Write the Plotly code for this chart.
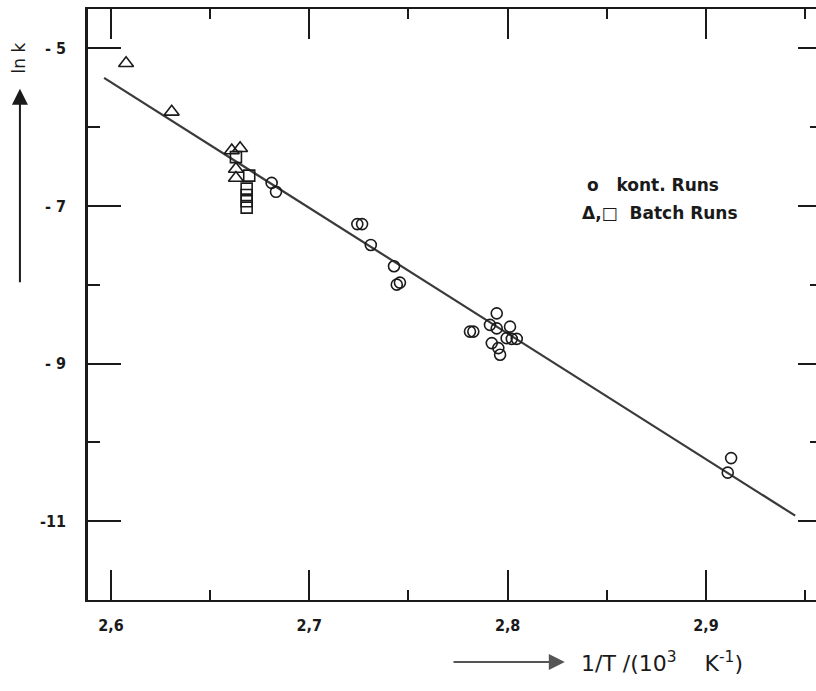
import plotly.graph_objects as go

# Arrhenius plot: ln k versus 1/T (10^3 K^-1)

# continuous runs (open circles)
kont_x = [2.6810, 2.6832, 2.7242, 2.7266, 2.7310, 2.7427, 2.7441, 2.7457,
          2.7810, 2.7827, 2.7945, 2.7911, 2.7945, 2.7920, 2.7953, 2.7962,
          2.8012, 2.7995, 2.8021, 2.8046, 2.9127, 2.9110]
kont_y = [-6.707, -6.820, -7.230, -7.230, -7.494, -7.764, -7.998, -7.972,
          -8.594, -8.594, -8.362, -8.509, -8.553, -8.740, -8.803, -8.887,
          -8.531, -8.677, -8.686, -8.686, -10.199, -10.384]

# batch runs (open triangles)
batch_tri_x = [2.6076, 2.6306, 2.6609, 2.6651, 2.6630, 2.6630]
batch_tri_y = [-5.189, -5.805, -6.296, -6.267, -6.531, -6.644]

# batch runs (open squares)
batch_sq_x = [2.6630, 2.6697, 2.6684, 2.6684, 2.6684, 2.6684]
batch_sq_y = [-6.380, -6.614, -6.780, -6.860, -6.940, -7.020]

# regression line end points
fit_x = [2.5965, 2.9450]
fit_y = [-5.374, -10.930]

# axis ticks
x_ticks = [2.6, 2.7, 2.8, 2.9]
y_ticks = [-5, -7, -9, -11]
y_ticktext = ["- 5", "- 7", "- 9", "-11"]

FONT = "DejaVu Sans Condensed, DejaVu Sans, sans-serif"
WIDE = "DejaVu Sans, sans-serif"
INK = "#1a1a1a"

fig = go.Figure()

fig.add_trace(go.Scatter(
    x=fit_x, y=fit_y, mode="lines",
    line=dict(color="#3a3a3a", width=2.2), showlegend=False, hoverinfo="skip"))

fig.add_trace(go.Scatter(
    x=kont_x, y=kont_y, mode="markers", name="kont. Runs",
    marker=dict(symbol="circle-open", size=11, color=INK, line=dict(width=1.6))))

fig.add_trace(go.Scatter(
    x=batch_tri_x, y=batch_tri_y, mode="markers", name="Batch Runs",
    marker=dict(symbol="triangle-up-open", size=13, color=INK, line=dict(width=1.6))))

fig.add_trace(go.Scatter(
    x=batch_sq_x, y=batch_sq_y, mode="markers", name="Batch Runs",
    marker=dict(symbol="square-open", size=11, color=INK, line=dict(width=1.6))))

# right-hand tick marks without an axis line
fig.add_trace(go.Scatter(x=[None], y=[None], yaxis="y2", showlegend=False))

fig.update_layout(
    width=816, height=691,
    margin=dict(l=88, r=0, t=9, b=91),
    paper_bgcolor="white", plot_bgcolor="white",
    separators=",.",
    showlegend=False,
    font=dict(family=FONT, color=INK, size=16),
    xaxis=dict(
        range=[2.5884, 2.9555],
        tickvals=x_ticks, tickformat=".1f",
        ticks="inside", ticklen=30, tickwidth=2, tickcolor=INK,
        minor=dict(dtick=0.05, tick0=2.6, ticks="inside", ticklen=10,
                   tickwidth=2, tickcolor=INK),
        showline=True, linecolor=INK, linewidth=2, mirror="ticks",
        showgrid=False, zeroline=False,
        ticklabelstandoff=10,
        tickfont=dict(family=FONT, size=16, color=INK, weight="bold"),
    ),
    yaxis=dict(
        range=[-12.0, -4.5],
        tickvals=y_ticks, ticktext=y_ticktext,
        ticks="inside", ticklen=33, tickwidth=2, tickcolor=INK,
        minor=dict(dtick=1, tick0=-5, ticks="inside", ticklen=12,
                   tickwidth=2, tickcolor=INK),
        showline=True, linecolor=INK, linewidth=2.5,
        showgrid=False, zeroline=False,
        ticklabelstandoff=16,
        tickfont=dict(family=FONT, size=16, color=INK, weight="bold"),
    ),
    yaxis2=dict(
        overlaying="y", side="right", matches="y",
        range=[-12.0, -4.5],
        tickvals=y_ticks, showticklabels=False,
        ticks="inside", ticklen=18, tickwidth=2, tickcolor=INK,
        minor=dict(dtick=1, tick0=-5, ticks="inside", ticklen=6,
                   tickwidth=2, tickcolor=INK),
        showline=False, showgrid=False, zeroline=False,
    ),
)

# legend written as text inside the plot
fig.add_annotation(xref="paper", yref="paper", x=0.683, y=0.703,
                   xanchor="left", yanchor="middle", showarrow=False,
                   text="o   kont. Runs",
                   font=dict(family=WIDE, size=17, color=INK, weight="bold"))
fig.add_annotation(xref="paper", yref="paper", x=0.676, y=0.655,
                   xanchor="left", yanchor="middle", showarrow=False,
                   text="\u0394,\u25a1  Batch Runs",
                   font=dict(family=WIDE, size=17, color=INK, weight="bold"))

# y-axis title with upward arrow
fig.add_annotation(xref="paper", yref="paper", x=-0.0935, y=0.918,
                   xanchor="center", yanchor="middle", showarrow=False,
                   text="ln k", textangle=-90,
                   font=dict(family=WIDE, size=17, color=INK))
fig.add_annotation(xref="x domain", yref="y domain", x=-0.0935, y=0.865,
                   ax=-0.0935, ay=0.535, axref="x domain", ayref="y domain",
                   showarrow=True, arrowhead=2, arrowsize=1.6, arrowwidth=2,
                   arrowcolor=INK, text="")

# x-axis title with rightward arrow
fig.add_annotation(xref="x domain", yref="y domain", x=0.655, y=-0.105,
                   ax=0.5, ay=-0.105, axref="x domain", ayref="y domain",
                   showarrow=True, arrowhead=2, arrowsize=1.6, arrowwidth=2,
                   arrowcolor="#555555", text="")
fig.add_annotation(xref="paper", yref="paper", x=0.675, y=-0.105,
                   xanchor="left", yanchor="middle", showarrow=False,
                   text="1/T /(10<sup>3</sup>    K<sup>-1</sup>)",
                   font=dict(family=WIDE, size=22, color=INK))

fig.write_html("out.html")
